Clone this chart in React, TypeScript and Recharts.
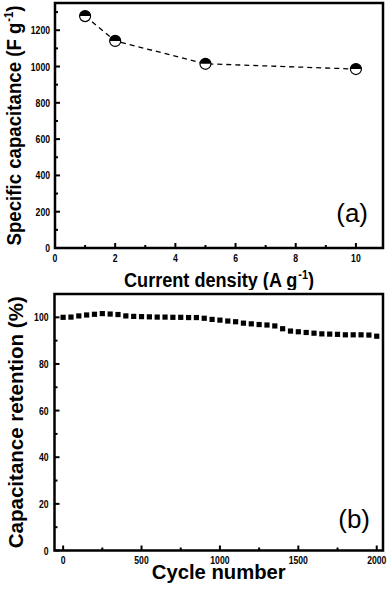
import React from "react";
import { LineChart, Line, XAxis, YAxis, ReferenceArea } from "recharts";

// (a) rate capability
const densities = [1, 2, 5, 10];
const capacitances = [1278, 1141, 1015, 986];
const densityTicks = [0, 1, 2, 3, 4, 5, 6, 7, 8, 9, 10];
const capTicks = [0, 100, 200, 300, 400, 500, 600, 700, 800, 900, 1000, 1100, 1200, 1300];
const densityDomain = [0, 10.9];
const capDomain = [0, 1350];

// (b) cycling stability
const cycles = [
  0, 50, 100, 150, 200, 250, 300, 350, 400, 450, 500, 550, 600, 650, 700, 750,
  800, 850, 900, 950, 1000, 1050, 1100, 1150, 1200, 1250, 1300, 1350, 1400,
  1450, 1500, 1550, 1600, 1650, 1700, 1750, 1800, 1850, 1900, 1950, 2000,
];
const retention = [
  100.0, 100.1, 100.6, 101.0, 101.3, 101.6, 101.4, 101.2, 100.6, 100.4, 100.3,
  100.2, 100.1, 100.1, 100.0, 100.0, 99.9, 99.9, 99.6, 99.1, 98.8, 98.4, 98.1,
  97.5, 97.2, 96.9, 96.7, 96.3, 95.1, 94.1, 93.8, 93.5, 93.2, 92.9, 92.8, 92.7,
  92.5, 92.5, 92.5, 92.4, 91.9,
];
const cycleTicks = [0, 250, 500, 750, 1000, 1250, 1500, 1750, 2000];
const retTicks = [0, 10, 20, 30, 40, 50, 60, 70, 80, 90, 100];
const cycleDomain = [-55, 2040];
const retDomain = [0, 110];

const rateData = densities.map((d, i) => ({ d, cap: capacitances[i] }));
const cycleData = cycles.map((c, i) => ({ c, ret: retention[i] }));

const FONT = "'Liberation Sans', Arial, Helvetica, sans-serif";
const DIGIT_W = 4.8;

function makeXTick(majorStep: number, labelDy: number) {
  return (props: any) => {
    const { x, y, payload } = props;
    const v = payload.value;
    const major = v % majorStep === 0;
    const s = String(v);
    return (
      <g>
        <line x1={x} x2={x} y1={y} y2={y - (major ? 5 : 3)} stroke="#000" strokeWidth={2} />
        {major && (
          <text
            x={x}
            y={y + labelDy}
            textAnchor="middle"
            fontFamily={FONT}
            fontWeight="bold"
            fontSize={11}
            fill="#000"
            textLength={s.length * DIGIT_W}
            lengthAdjust="spacingAndGlyphs"
          >
            {s}
          </text>
        )}
      </g>
    );
  };
}

function makeYTick(majorStep: number, gap: number) {
  return (props: any) => {
    const { x, y, payload } = props;
    const v = payload.value;
    const major = v % majorStep === 0;
    const s = String(v);
    return (
      <g>
        <line x1={x} x2={x + (major ? 5 : 3)} y1={y} y2={y} stroke="#000" strokeWidth={2} />
        {major && (
          <text
            x={x - gap}
            y={y + 4}
            textAnchor="end"
            fontFamily={FONT}
            fontWeight="bold"
            fontSize={11}
            fill="#000"
            textLength={s.length * DIGIT_W}
            lengthAdjust="spacingAndGlyphs"
          >
            {s}
          </text>
        )}
      </g>
    );
  };
}

function xTitle(main: string, sup: string, tail: string, dy: number, len: number) {
  return (props: any) => {
    const vb = props.viewBox;
    const cx = vb.x + vb.width / 2;
    return (
      <text
        x={cx - len / 2}
        y={vb.y + dy}
        fontFamily={FONT}
        fontWeight="bold"
        fontSize={20}
        fill="#000"
        textLength={len}
        lengthAdjust="spacingAndGlyphs"
      >
        {main}
        {sup && (
          <tspan dx={1} dy={-8} fontSize={12}>
            {sup}
          </tspan>
        )}
        {tail && <tspan dy={sup ? 8 : 0}>{tail}</tspan>}
      </text>
    );
  };
}

function yTitle(main: string, sup: string, tail: string, bx: number, len: number) {
  return (props: any) => {
    const vb = props.viewBox;
    const cy = vb.y + vb.height / 2;
    const px = vb.x + bx;
    const py = cy + len / 2;
    return (
      <text
        x={px}
        y={py}
        transform={`rotate(-90, ${px}, ${py})`}
        fontFamily={FONT}
        fontWeight="bold"
        fontSize={20}
        fill="#000"
        textLength={len}
        lengthAdjust="spacingAndGlyphs"
      >
        {main}
        {sup && (
          <tspan dx={1} dy={-8} fontSize={12}>
            {sup}
          </tspan>
        )}
        {tail && <tspan dy={sup ? 8 : 0}>{tail}</tspan>}
      </text>
    );
  };
}

function panelTag(tag: string, right: number, up: number) {
  return (props: any) => {
    const vb = props.viewBox;
    if (!vb) return null;
    return (
      <text
        x={vb.x + vb.width - right}
        y={vb.y + vb.height - up}
        textAnchor="end"
        fontFamily={FONT}
        fontSize={26}
        fill="#000"
      >
        {tag}
      </text>
    );
  };
}

const HalfDot = (props: any) => {
  const { cx, cy } = props;
  if (cx == null || cy == null) return null;
  const r = 5.5;
  return (
    <g>
      <circle cx={cx} cy={cy} r={r} fill="#fff" stroke="#000" strokeWidth={1.2} />
      <path d={`M ${cx - r} ${cy} A ${r} ${r} 0 0 1 ${cx + r} ${cy} Z`} fill="#000" />
    </g>
  );
};

const SquareDot = (props: any) => {
  const { cx, cy } = props;
  if (cx == null || cy == null) return null;
  return <rect x={cx - 2.6} y={cy - 2.6} width={5.2} height={5.2} fill="#000" />;
};

export default function App() {
  return (
    <div style={{ position: "absolute", left: 0, top: 0, width: 392, height: 591, background: "#fff" }}>
      <div style={{ position: "absolute", left: 0, top: 0 }}>
        <LineChart width={392} height={290} data={rateData} margin={{ top: 3, right: 9, bottom: 0, left: 0 }}>
          <XAxis
            dataKey="d"
            type="number"
            domain={densityDomain}
            ticks={densityTicks}
            interval={0}
            height={42}
            axisLine={false}
            tickLine={false}
            tickSize={0}
            tickMargin={0}
            tick={makeXTick(2, 14)}
            label={xTitle("Current density (A g", "-1", ")", 38.7, 190)}
          />
          <YAxis
            type="number"
            domain={capDomain}
            ticks={capTicks}
            interval={0}
            width={55}
            axisLine={false}
            tickLine={false}
            tickSize={0}
            tickMargin={0}
            tick={makeYTick(200, 5)}
            label={yTitle("Specific capacitance (F g", "-1", ")", 20.5, 240)}
          />
          <ReferenceArea
            x1={densityDomain[0]}
            x2={densityDomain[1]}
            y1={capDomain[0]}
            y2={capDomain[1]}
            ifOverflow="visible"
            fill="none"
            fillOpacity={0}
            stroke="#000"
            strokeWidth={2.5}
            label={panelTag("(a)", 15, 26.5)}
          />
          <Line
            dataKey="cap"
            type="linear"
            stroke="#000"
            strokeWidth={1.3}
            strokeDasharray="5 4"
            dot={HalfDot}
            activeDot={false}
            isAnimationActive={false}
          />
        </LineChart>
      </div>
      <div style={{ position: "absolute", left: 0, top: 290 }}>
        <LineChart width={392} height={301} data={cycleData} margin={{ top: 4, right: 9, bottom: 0, left: 0 }}>
          <XAxis
            dataKey="c"
            type="number"
            domain={cycleDomain}
            ticks={cycleTicks}
            interval={0}
            height={40.5}
            axisLine={false}
            tickLine={false}
            tickSize={0}
            tickMargin={0}
            tick={makeXTick(500, 13)}
            label={xTitle("Cycle number", "", "", 28, 134)}
          />
          <YAxis
            type="number"
            domain={retDomain}
            ticks={retTicks}
            interval={0}
            width={54.5}
            axisLine={false}
            tickLine={false}
            tickSize={0}
            tickMargin={0}
            tick={makeYTick(20, 6)}
            label={yTitle("Capacitance retention (%)", "", "", 23, 252)}
          />
          <ReferenceArea
            x1={cycleDomain[0]}
            x2={cycleDomain[1]}
            y1={retDomain[0]}
            y2={retDomain[1]}
            ifOverflow="visible"
            fill="none"
            fillOpacity={0}
            stroke="#000"
            strokeWidth={2.5}
            label={panelTag("(b)", 13, 22.5)}
          />
          <Line
            dataKey="ret"
            type="linear"
            stroke="none"
            dot={SquareDot}
            activeDot={false}
            isAnimationActive={false}
          />
        </LineChart>
      </div>
    </div>
  );
}
